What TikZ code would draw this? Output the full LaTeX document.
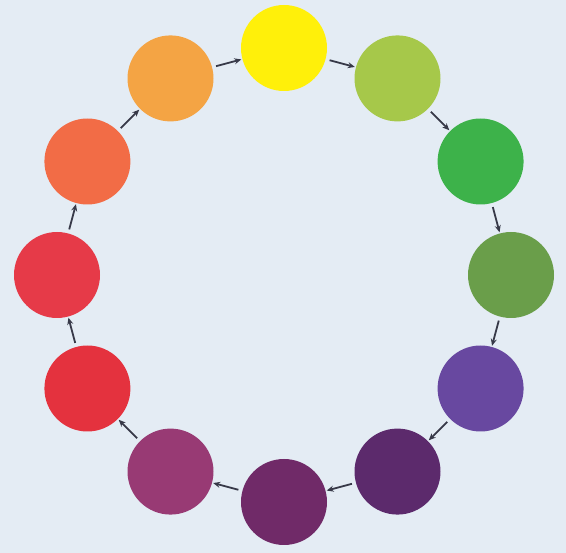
\documentclass[tikz,border=0pt]{standalone}
\usetikzlibrary{arrows.meta}
\definecolor{bg}{RGB}{228,236,244}
\definecolor{c1}{RGB}{255,240,10}
\definecolor{c2}{RGB}{166,200,74}
\definecolor{c3}{RGB}{61,178,74}
\definecolor{c4}{RGB}{106,158,74}
\definecolor{c5}{RGB}{104,72,160}
\definecolor{c6}{RGB}{92,42,108}
\definecolor{c7}{RGB}{112,42,104}
\definecolor{c8}{RGB}{152,58,116}
\definecolor{c9}{RGB}{228,50,62}
\definecolor{c10}{RGB}{230,58,72}
\definecolor{c11}{RGB}{242,108,70}
\definecolor{c12}{RGB}{244,164,68}
\definecolor{arrc}{RGB}{55,57,72}
\begin{document}
\begin{tikzpicture}[x=1pt,y=-1pt,
  dot/.style={circle,minimum size=86pt,inner sep=0pt,draw=none},
  arr/.style={draw=arrc,line width=1.8pt,-{Stealth[length=7pt,width=6pt]},shorten <=4pt,shorten >=1pt}]
\fill[bg] (0,0) rectangle (566,553);
\useasboundingbox (0,0) rectangle (566,553);
\foreach \i in {1,...,12} {
  \pgfmathsetmacro{\ang}{90-(\i-1)*30}
  \node[dot,fill=c\i] (n\i) at ({284+227*cos(\ang)},{275-227*sin(\ang)}) {};
}
\draw[arr] (n1) -- (n2);
\draw[arr] (n2) -- (n3);
\draw[arr] (n3) -- (n4);
\draw[arr] (n4) -- (n5);
\draw[arr] (n5) -- (n6);
\draw[arr] (n6) -- (n7);
\draw[arr] (n7) -- (n8);
\draw[arr] (n8) -- (n9);
\draw[arr] (n9) -- (n10);
\draw[arr] (n10) -- (n11);
\draw[arr] (n11) -- (n12);
\draw[arr] (n12) -- (n1);
\end{tikzpicture}
\end{document}
